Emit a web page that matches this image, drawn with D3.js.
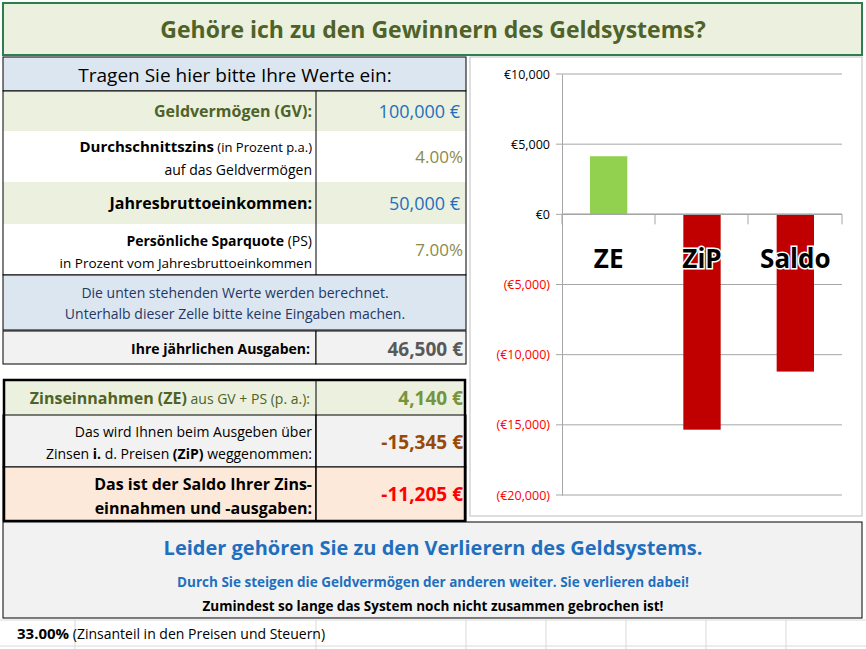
<!DOCTYPE html>
<html><head><meta charset="utf-8">
<script src="https://cdn.jsdelivr.net/npm/d3@7"></script>
<style>body{margin:0;background:#fff;font-family:Calibri,Carlito,"Open Sans",sans-serif}</style>
</head><body><svg id="s" width="866" height="649"></svg>
<script>
const categories=["ZE","ZiP","Saldo"];
const values=[4140,-15345,-11205];
const barColors=["#92d050","#c00000","#c00000"];
const yTicks=[10000,5000,0,-5000,-10000,-15000,-20000];
const svg=d3.select("#s");
const F='"Open Sans",sans-serif';
// grid background
svg.append("rect").attr("x",0).attr("y",0).attr("width",866).attr("height",649).attr("fill","#fff");
[620,646].forEach(y=>svg.append("line").attr("x1",0).attr("x2",866).attr("y1",y).attr("y2",y).attr("stroke","#d9d9d9"));
[75,316,466,546,626,706,786].forEach(x=>svg.append("line").attr("x1",x).attr("x2",x).attr("y1",620).attr("y2",649).attr("stroke","#d9d9d9"));
// title
svg.append("rect").attr("x",3).attr("y",3).attr("width",859).attr("height",52).attr("fill","#ebf1de").attr("stroke","#2e7d4f").attr("stroke-width",2);
svg.append("text").attr("x",433).attr("y",38).attr("text-anchor","middle").attr("font-family",F).attr("font-weight","bold").attr("font-size",23).attr("fill","#4f6228").text("Gehöre ich zu den Gewinnern des Geldsystems?");
function rect(x,y,w,h,fill,stroke,sw){svg.append("rect").attr("x",x).attr("y",y).attr("width",w).attr("height",h).attr("fill",fill).attr("stroke",stroke||"none").attr("stroke-width",sw||1);}
function txt(x,y,t,o){const e=svg.append("text").attr("x",x).attr("y",y).attr("font-family",F).attr("font-size",o.s||15).attr("fill",o.c||"#000").attr("text-anchor",o.a||"end").attr("font-weight",o.b?"bold":"normal");
 if(Array.isArray(t)){t.forEach(p=>e.append("tspan").attr("font-weight",p[1]?"bold":"normal").attr("font-size",p[2]||null).text(p[0]));}else e.text(t);return e;}
rect(3,57,463,34,"#dce6f1","#000");
txt(235,82,"Tragen Sie hier bitte Ihre Werte ein:",{a:"middle",s:19});
rect(3,91,313,40,"#ebf1de");rect(316,91,150,40,"#ebf1de");
txt(312,117,"Geldvermögen (GV):",{b:1,c:"#4f6228",s:16});
txt(460,118,"100,000 €",{c:"#1f6fbf",s:18});
txt(312,152,[["Durchschnittszins",1],[" (in Prozent p.a.)",0,13]],{s:15});
txt(312,175,"auf das Geldvermögen",{s:14});
txt(463,163,"4.00%",{c:"#8a8a4a",s:17});
rect(3,182,313,42,"#ebf1de");rect(316,182,150,42,"#ebf1de");
txt(312,209,"Jahresbruttoeinkommen:",{b:1,s:16});
txt(460,210,"50,000 €",{c:"#1f6fbf",s:18});
txt(312,246,[["Persönliche Sparquote",1],[" (PS)",0]],{s:14});
txt(312,268,"in Prozent vom Jahresbruttoeinkommen",{s:13.5});
txt(463,256,"7.00%",{c:"#8a8a4a",s:17});
svg.append("rect").attr("x",3).attr("y",91).attr("width",463).attr("height",184).attr("fill","none").attr("stroke","#000");
svg.append("line").attr("x1",316).attr("x2",316).attr("y1",91).attr("y2",275).attr("stroke","#000");
rect(3,275,463,55,"#dce6f1","#000");
txt(235,298,"Die unten stehenden Werte werden berechnet.",{a:"middle",s:14,c:"#1f3864"});
txt(235,319,"Unterhalb dieser Zelle bitte keine Eingaben machen.",{a:"middle",s:14,c:"#1f3864"});
rect(3,331,313,33,"#f2f2f2","#000");rect(316,331,150,33,"#f2f2f2","#000");
txt(310,354,"Ihre jährlichen Ausgaben:",{b:1,s:14});
txt(463,356,"46,500 €",{b:1,c:"#595959",s:19});
rect(3,380,313,35,"#ebf1de");rect(316,380,150,35,"#ebf1de");
txt(310,404,[["Zinseinnahmen ",1],["(ZE)",1],[" aus GV + PS (p. a.):",0,14]],{s:16,c:"#4f6228"});
txt(463,405,"4,140 €",{b:1,c:"#77933c",s:19});
rect(3,415,313,52,"#f2f2f2","#000");rect(316,415,150,52,"#f2f2f2","#000");
txt(312,437,"Das wird Ihnen beim Ausgeben über",{s:14});
txt(312,459,[["Zinsen ",0],["i.",1],[" d. Preisen ",0],["(ZiP)",1],[" weggenommen:",0]],{s:14});
txt(463,449,"-15,345 €",{b:1,c:"#984807",s:19});
rect(3,467,313,54,"#fde9d9","#000");rect(316,467,150,54,"#fde9d9","#000");
txt(312,490,"Das ist der Saldo Ihrer Zins-",{b:1,s:16});
txt(312,514,"einnahmen und -ausgaben:",{b:1,s:16});
txt(463,501,"-11,205 €",{b:1,c:"#ff0000",s:19});
svg.append("rect").attr("x",4).attr("y",380).attr("width",461).attr("height",141).attr("fill","none").attr("stroke","#000").attr("stroke-width",2.5);
svg.append("line").attr("x1",316).attr("x2",316).attr("y1",380).attr("y2",521).attr("stroke","#000");
// bottom box
rect(3,522,859,96,"#f2f2f2","#000");
txt(433,555,"Leider gehören Sie zu den Verlierern des Geldsystems.",{a:"middle",b:1,s:20,c:"#1f6fbf"});
txt(433,587,"Durch Sie steigen die Geldvermögen der anderen weiter. Sie verlieren dabei!",{a:"middle",b:1,s:13.5,c:"#1f6fbf"});
txt(433,611,"Zumindest so lange das System noch nicht zusammen gebrochen ist!",{a:"middle",b:1,s:13.5});
txt(17,639,[["33.00%",1,15],[" (Zinsanteil in den Preisen und Steuern)",0,14]],{a:"start"});
// chart
rect(470,57,392,459,"#fff","#bfbfbf");
const y=d3.scaleLinear().domain([-20000,10000]).range([495,74]);
const x=d3.scaleBand().domain(categories).range([562,842]).paddingInner(0.6).paddingOuter(0.3);
const ax=d3.axisLeft(y).tickValues(yTicks).tickSize(0).tickPadding(12).tickFormat(v=>v<0?"(€"+d3.format(",")(-v)+")":"€"+d3.format(",")(v));
yTicks.forEach(v=>svg.append("line").attr("x1",556).attr("x2",842).attr("y1",y(v)).attr("y2",y(v)).attr("stroke","#a6a6a6").attr("stroke-width",1));
const g=svg.append("g").attr("transform","translate(562,0)").call(ax);
g.select(".domain").attr("stroke","#a6a6a6");
g.selectAll("text").attr("font-family",F).attr("font-size",12.5).attr("fill",d=>d<0?"#ff0000":"#000");
svg.selectAll(".bar").data(values).enter().append("rect")
 .attr("x",(d,i)=>x(categories[i])).attr("width",x.bandwidth())
 .attr("y",d=>y(Math.max(0,d))).attr("height",d=>Math.abs(y(d)-y(0))).attr("fill",(d,i)=>barColors[i]);
svg.append("line").attr("x1",562).attr("x2",842).attr("y1",y(0)).attr("y2",y(0)).attr("stroke","#a6a6a6").attr("stroke-width",1.5);
[562,655,748,842].forEach(t=>svg.append("line").attr("x1",t).attr("x2",t).attr("y1",y(0)).attr("y2",y(0)+10).attr("stroke","#a6a6a6"));
categories.forEach(c=>svg.append("text").attr("x",x(c)+x.bandwidth()/2).attr("y",268).attr("text-anchor","middle")
 .attr("font-family",F).attr("font-weight","bold").attr("font-size",26).attr("fill","#000")
 .attr("stroke","#fff").attr("stroke-width",3).attr("paint-order","stroke").text(c));
</script></body></html>
